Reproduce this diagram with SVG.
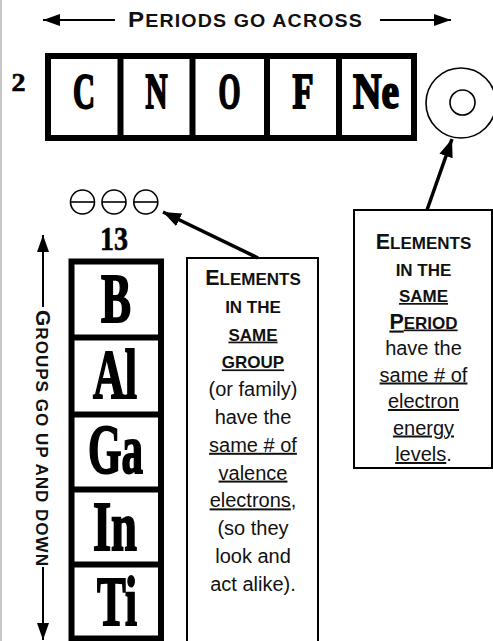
<svg xmlns="http://www.w3.org/2000/svg" width="493" height="641" viewBox="0 0 493 641">
<style>
.sym{font-family:"Liberation Serif",serif;font-weight:bold;fill:#000;stroke:#000;stroke-width:2;text-anchor:middle}
.num{font-family:"Liberation Serif",serif;font-weight:bold;fill:#000;stroke:#000;stroke-width:0.6;text-anchor:middle}
.hd{font-family:"Liberation Sans",Arial,sans-serif;font-weight:bold;fill:#111;letter-spacing:1px}
.cap{font-family:"Liberation Sans",Arial,sans-serif;font-weight:bold;fill:#111;text-anchor:middle;font-size:17px}
.txt{font-family:"Liberation Sans",Arial,sans-serif;fill:#111;text-anchor:middle;font-size:20px}
.u{text-decoration:underline}
.frame{fill:none;stroke:#000;stroke-width:6}
.box{fill:#fff;stroke:#000;stroke-width:2}
.thin{stroke:#000;stroke-width:2;fill:none}
.thick{stroke:#000;stroke-width:3.5;fill:none}
.ring{fill:none;stroke:#000;stroke-width:1.6}
</style>
<defs>
<marker id="ah" markerUnits="userSpaceOnUse" markerWidth="18" markerHeight="12" refX="17" refY="6" orient="auto"><path d="M0,0 L17,6 L0,12 Z" fill="#000"/></marker>
<marker id="ahb" markerUnits="userSpaceOnUse" markerWidth="19" markerHeight="14" refX="18" refY="7" orient="auto"><path d="M0,0 L18,7 L0,14 Z" fill="#000"/></marker>
</defs>
<rect width="493" height="641" fill="#fff"/>
<line x1="1" y1="0" x2="1" y2="641" stroke="#c8c8c8" stroke-width="2"/>

<g id="period-label">
<text class="hd" x="128" y="27" textLength="235" lengthAdjust="spacingAndGlyphs"><tspan font-size="21.5">P</tspan><tspan font-size="17.5">ERIODS GO ACROSS</tspan></text>
</g>

<g id="group-label">
<text class="hd" transform="translate(35.5,310) rotate(90)" x="0" y="0" textLength="257" lengthAdjust="spacingAndGlyphs"><tspan font-size="21">G</tspan><tspan font-size="17">ROUPS GO UP AND DOWN</tspan></text>
</g>

<g id="period-row">
<text class="num" x="18.5" y="91" font-size="25" textLength="14" lengthAdjust="spacingAndGlyphs">2</text>
<rect class="frame" x="48" y="56" width="366" height="82"/>
<line class="frame" x1="120.5" y1="56" x2="120.5" y2="138"/>
<line class="frame" x1="192.5" y1="56" x2="192.5" y2="138"/>
<line class="frame" x1="267" y1="56" x2="267" y2="138"/>
<line class="frame" x1="339" y1="56" x2="339" y2="138"/>
<text class="sym" x="84" y="108" font-size="50" textLength="22" lengthAdjust="spacingAndGlyphs">C</text>
<text class="sym" x="156.5" y="108" font-size="50" textLength="22" lengthAdjust="spacingAndGlyphs">N</text>
<text class="sym" x="229.5" y="108" font-size="50" textLength="22" lengthAdjust="spacingAndGlyphs">O</text>
<text class="sym" x="303" y="108" font-size="50" textLength="21" lengthAdjust="spacingAndGlyphs">F</text>
<text class="sym" x="376" y="108" font-size="50" textLength="46" lengthAdjust="spacingAndGlyphs">Ne</text>
</g>

<g id="atom">
<circle class="ring" cx="461" cy="103" r="35"/>
<circle class="ring" cx="462.5" cy="102.5" r="12.5"/>
</g>

<g id="electrons">
<circle class="ring" cx="82.5" cy="202" r="12"/>
<line class="ring" x1="70.5" y1="202" x2="94.5" y2="202"/>
<circle class="ring" cx="114" cy="202" r="12"/>
<line class="ring" x1="102" y1="202" x2="126" y2="202"/>
<circle class="ring" cx="145.8" cy="202" r="12"/>
<line class="ring" x1="133.8" y1="202" x2="157.8" y2="202"/>
</g>

<g id="group-column">
<text class="num" x="114" y="250" font-size="34" textLength="28" lengthAdjust="spacingAndGlyphs">13</text>
<rect class="frame" x="71.5" y="261.5" width="89.5" height="377"/>
<line class="frame" x1="71.5" y1="337.5" x2="161" y2="337.5"/>
<line class="frame" x1="71.5" y1="414.5" x2="161" y2="414.5"/>
<line class="frame" x1="71.5" y1="489.5" x2="161" y2="489.5"/>
<line class="frame" x1="71.5" y1="564.5" x2="161" y2="564.5"/>
<text class="sym" x="116" y="322" font-size="70" textLength="30" lengthAdjust="spacingAndGlyphs">B</text>
<text class="sym" x="115" y="398" font-size="70" textLength="44" lengthAdjust="spacingAndGlyphs">Al</text>
<text class="sym" x="115.5" y="473" font-size="70" textLength="55" lengthAdjust="spacingAndGlyphs">Ga</text>
<text class="sym" x="115" y="550" font-size="70" textLength="44" lengthAdjust="spacingAndGlyphs">In</text>
<text class="sym" x="117" y="625" font-size="70" textLength="40" lengthAdjust="spacingAndGlyphs">Ti</text>
</g>

<g id="group-note">
<rect class="box" x="187" y="258" width="131" height="400"/>
<text class="cap" x="253" y="285"><tspan font-size="21.5">E</tspan>LEMENTS</text>
<text class="cap" x="253" y="312.8">IN THE</text>
<text class="cap u" x="253" y="340.6">SAME</text>
<text class="cap u" x="253" y="368.4">GROUP</text>
<text class="txt" x="253" y="396.2">(or family)</text>
<text class="txt" x="253" y="424">have the</text>
<text class="txt u" x="253" y="451.8">same # of</text>
<text class="txt u" x="253" y="479.6">valence</text>
<text class="txt" x="253" y="507.4"><tspan class="u">electrons</tspan>,</text>
<text class="txt" x="253" y="535.2">(so they</text>
<text class="txt" x="253" y="563">look and</text>
<text class="txt" x="253" y="590.8">act alike).</text>
</g>

<g id="period-note">
<rect class="box" x="354" y="210" width="138" height="258"/>
<text class="cap" x="423.5" y="249"><tspan font-size="21.5">E</tspan>LEMENTS</text>
<text class="cap" x="423.5" y="275.5">IN THE</text>
<text class="cap u" x="423.5" y="302">SAME</text>
<text class="cap u" x="423.5" y="328.5"><tspan font-size="21.5">P</tspan>ERIOD</text>
<text class="txt" x="423.5" y="355">have the</text>
<text class="txt u" x="423.5" y="381.5">same # of</text>
<text class="txt u" x="423.5" y="408">electron</text>
<text class="txt u" x="423.5" y="434.5">energy</text>
<text class="txt" x="423.5" y="461"><tspan class="u">levels</tspan>.</text>
</g>

<g id="connectors">
<line class="thin" x1="115" y1="20" x2="43" y2="20" marker-end="url(#ah)"/>
<line class="thin" x1="380" y1="20" x2="451" y2="20" marker-end="url(#ah)"/>
<line class="thin" x1="43" y1="307" x2="43" y2="235" marker-end="url(#ah)"/>
<line class="thin" x1="43" y1="567" x2="43" y2="640" marker-end="url(#ah)"/>
<line class="thick" x1="258" y1="258" x2="163" y2="212" marker-end="url(#ahb)"/>
<line class="thick" x1="427" y1="210" x2="452" y2="139" marker-end="url(#ahb)"/>
</g>
</svg>
